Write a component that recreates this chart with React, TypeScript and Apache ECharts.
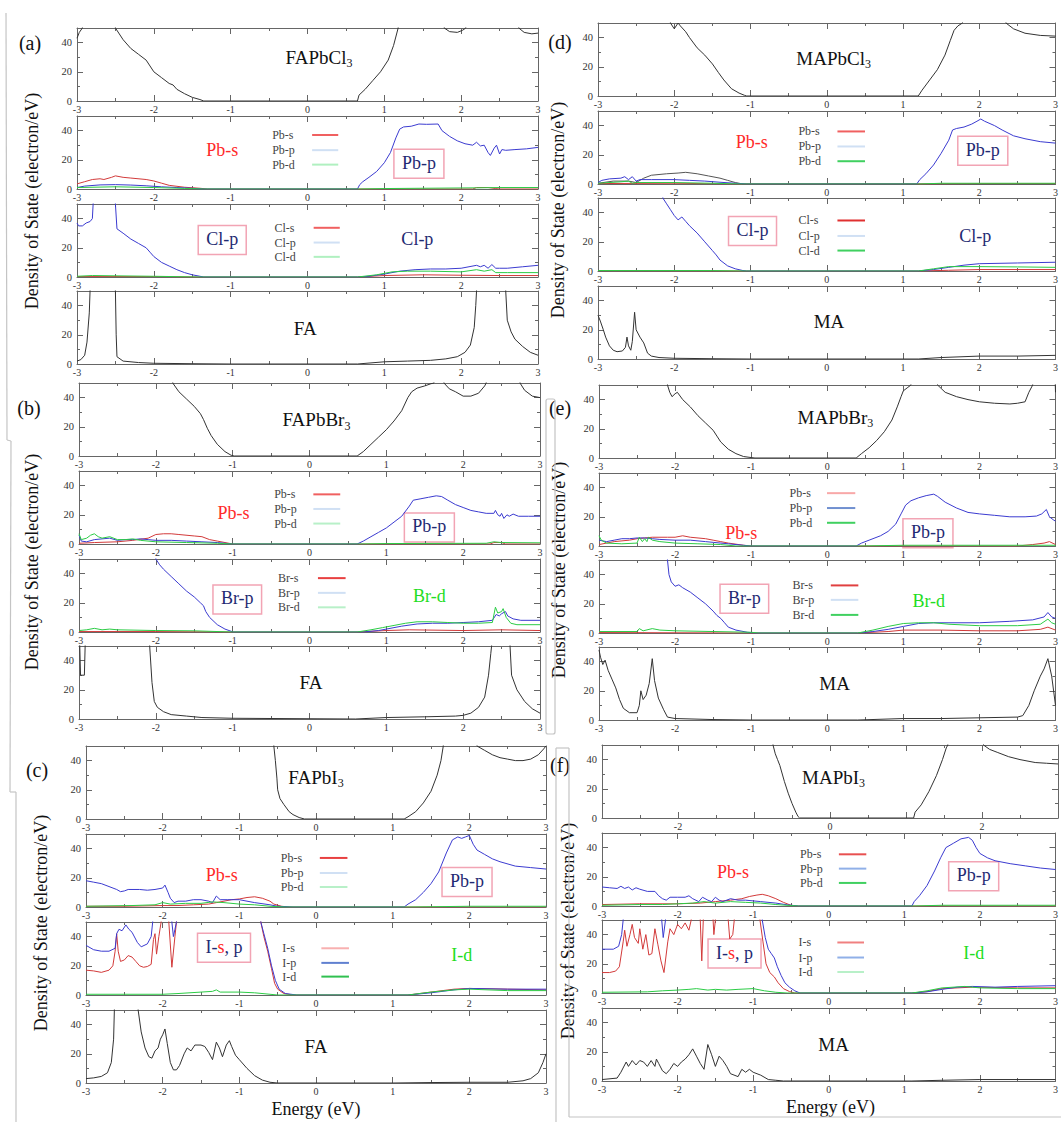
import React, { useEffect, useRef } from 'react';
import * as echarts from 'echarts';

type Pt = [number, number];

// ---------- axis ticks ----------
const X_MIN = -3;
const X_MAX = 3;
const Y_MIN = 0;
const Y_MAX = 50;

// ---------- (a) FAPbCl3 ----------
const A_TOT: Pt[] = [[-3,43],[-2.97,47],[-2.93,50],[-2.9,80],[-2.52,80],[-2.5,50],[-2.4,42],[-2.3,36],[-2.2,32],[-2.1,28],[-2.05,24],[-2.0,20],[-1.9,16],[-1.8,12],[-1.75,11],[-1.7,8],[-1.6,5],[-1.5,2.5],[-1.4,1],[-1.35,0],[0.65,0],[0.67,4],[0.75,8],[0.85,14],[0.95,20],[1.05,28],[1.12,38],[1.18,50],[1.2,80],[1.75,80],[1.78,50],[1.85,47.5],[1.95,47],[2.02,48.5],[2.06,50],[2.1,80],[2.72,80],[2.75,50],[2.82,47],[2.92,46],[3,46.5]];
const A_PB_S: Pt[] = [[-3,3.5],[-2.9,5],[-2.8,6.5],[-2.7,7],[-2.65,6.5],[-2.55,8],[-2.5,9],[-2.4,8],[-2.3,7.5],[-2.1,6.5],[-2.0,5.5],[-1.9,4],[-1.8,2.5],[-1.6,1.2],[-1.4,0.5],[-1.3,0],[2.15,0],[2.2,1],[2.35,1],[2.45,0.3],[2.5,0],[3,0]];
const A_PB_P: Pt[] = [[-3,1],[-2.9,2],[-2.7,2.8],[-2.5,3],[-2.3,2.7],[-2.1,2.2],[-1.9,1.5],[-1.7,1],[-1.5,0.5],[-1.35,0],[0.65,0],[0.68,3],[0.72,5],[0.8,8],[0.9,12],[1.0,18],[1.08,25],[1.15,35],[1.2,41],[1.25,42.5],[1.35,43],[1.45,44.5],[1.55,44.3],[1.7,44.5],[1.75,40],[1.85,36],[1.95,33],[2.05,31],[2.15,30],[2.2,32],[2.25,29.5],[2.3,30],[2.35,25],[2.38,23],[2.43,28],[2.46,30],[2.5,24],[2.53,27],[2.58,26.5],[2.7,27],[2.85,27.5],[3,28.5]];
const A_PB_D: Pt[] = [[-3,1],[-2.5,1.5],[-2.0,1],[-1.6,0.4],[-1.35,0],[0.65,0],[1,0.3],[2.2,0.8],[2.5,1],[3,1]];
const A_CL_S: Pt[] = [[-3,0.3],[-2,0.3],[-1.4,0],[0.65,0],[1.0,1],[1.5,1.5],[2,1.2],[2.5,1],[3,1]];
const A_CL_P: Pt[] = [[-3,37],[-2.98,35],[-2.93,35],[-2.88,37],[-2.83,38],[-2.8,40],[-2.79,50],[-2.77,80],[-2.52,80],[-2.5,50],[-2.48,33],[-2.4,30],[-2.3,26],[-2.2,23],[-2.1,20],[-2.05,17],[-2.0,14],[-1.9,10],[-1.8,7.5],[-1.7,5],[-1.6,3],[-1.5,1.5],[-1.4,0.5],[-1.35,0],[0.65,0],[0.8,0.5],[1.0,2],[1.2,4],[1.4,5],[1.6,5.5],[1.8,5.5],[2.0,6],[2.2,8],[2.25,7],[2.3,8],[2.35,6],[2.4,8.5],[2.45,6],[2.5,6],[2.6,6],[2.8,7],[3,8]];
const A_CL_D: Pt[] = [[-3,0.5],[-2.8,1],[-2.5,0.8],[-2.0,0.5],[-1.4,0],[0.65,0],[0.9,1.5],[1.1,3.5],[1.3,4],[1.6,4],[2.0,3.5],[2.2,5],[2.3,4],[2.4,5],[2.45,3],[2.6,3],[3,3]];
const A_FA: Pt[] = [[-3,2],[-2.95,3],[-2.9,6],[-2.87,15],[-2.84,35],[-2.83,50],[-2.82,80],[-2.52,80],[-2.5,50],[-2.49,20],[-2.48,5],[-2.4,2],[-2.2,1],[-2.0,0.5],[-1.5,0.2],[-1,0],[0.65,0],[1.0,1.5],[1.3,2],[1.6,2.5],[1.8,3.5],[1.95,5],[2.05,8],[2.12,13],[2.17,25],[2.19,40],[2.2,50],[2.21,80],[2.57,80],[2.58,50],[2.6,30],[2.65,22],[2.7,17],[2.8,12],[2.9,8],[3,6]];

// ---------- (b) FAPbBr3 ----------
const B_TOT: Pt[] = [[-1.8,80],[-1.78,50],[-1.7,44],[-1.6,39],[-1.5,34],[-1.42,29],[-1.38,25],[-1.33,19],[-1.28,14],[-1.2,8],[-1.1,3],[-1.02,0.5],[-0.98,0],[0.62,0],[0.7,3],[0.8,8],[0.9,13],[1.0,18],[1.1,24],[1.2,31],[1.28,40],[1.33,44],[1.4,46.5],[1.5,48],[1.58,49.5],[1.62,50],[1.65,80],[1.72,80],[1.75,50],[1.82,46],[1.9,44],[2.0,41],[2.1,41],[2.2,43],[2.28,48],[2.3,50],[2.32,80],[2.72,80],[2.74,50],[2.8,45],[2.9,41],[3,40]];
const B_PB_S: Pt[] = [[-3,0.5],[-2.8,1],[-2.5,1.5],[-2.3,2.5],[-2.1,4],[-2.0,6.5],[-1.9,7],[-1.8,7],[-1.7,6.5],[-1.5,5.5],[-1.4,5],[-1.3,3],[-1.2,2],[-1.1,1],[-1.0,0],[2.35,0],[2.4,1],[2.5,1],[2.55,0],[3,0]];
const B_PB_P: Pt[] = [[-3,6],[-2.97,2],[-2.9,1.5],[-2.8,3],[-2.7,3.5],[-2.6,4],[-2.5,2.5],[-2.4,3],[-2.3,3],[-2.2,3.5],[-2.1,3],[-2.0,2.5],[-1.8,2.5],[-1.6,2],[-1.4,1.5],[-1.2,1],[-1.0,0],[0.62,0],[0.7,2],[0.8,5],[0.9,8],[1.0,11],[1.1,15],[1.2,19],[1.3,26],[1.35,30],[1.45,31],[1.55,32],[1.65,33],[1.72,32.5],[1.8,30],[1.9,27],[2.0,25],[2.1,23],[2.2,22],[2.3,21],[2.4,21],[2.42,23],[2.45,20],[2.48,19],[2.5,21],[2.53,17.5],[2.57,20],[2.6,19],[2.65,20.5],[2.72,19],[2.85,19],[3,19]];
const B_PB_D: Pt[] = [[-3,7],[-2.97,3],[-2.9,4],[-2.85,6],[-2.8,7],[-2.75,5],[-2.7,4],[-2.6,5],[-2.5,3],[-2.4,3],[-2.3,3.5],[-2.2,2.5],[-2.0,1.5],[-1.6,1],[-1.2,0.5],[-1.0,0],[0.62,0],[1,0.3],[2.3,0.5],[2.4,1.5],[2.5,1],[3,0.8]];
const B_BR_S: Pt[] = [[-3,0.3],[-2,0.3],[-1,0],[0.62,0],[1.0,1],[1.3,1.5],[2,1],[2.5,1.5],[3,1]];
const B_BR_P: Pt[] = [[-2.02,80],[-2.0,50],[-1.95,46],[-1.9,43],[-1.8,38],[-1.7,33],[-1.6,28],[-1.5,24],[-1.42,20],[-1.38,18],[-1.35,14],[-1.3,10],[-1.2,5],[-1.1,2],[-1.02,0.5],[-1.0,0],[0.7,0],[0.9,1],[1.0,2],[1.2,4],[1.4,5.5],[1.6,6],[1.8,6],[2.0,6.5],[2.2,7],[2.38,8],[2.43,12],[2.47,11],[2.5,12.5],[2.55,14],[2.58,11],[2.65,9],[2.75,8],[3,8]];
const B_BR_D: Pt[] = [[-3,1],[-2.9,1.5],[-2.8,2.5],[-2.7,1.5],[-2.6,2],[-2.5,1.5],[-2.0,1],[-1.5,0.8],[-1.0,0],[0.62,0],[0.8,1.5],[0.95,3],[1.1,4.5],[1.25,6],[1.4,7],[1.6,7],[1.8,6.5],[2.0,6],[2.2,6],[2.38,6.5],[2.42,17],[2.45,13],[2.5,14],[2.52,16],[2.56,10],[2.62,6],[2.7,5],[3,5]];
const B_FA: Pt[] = [[-3,80],[-2.99,50],[-2.98,30],[-2.93,30],[-2.92,50],[-2.91,80],[-2.1,80],[-2.08,50],[-2.05,25],[-2.02,12],[-1.98,8],[-1.9,5],[-1.8,3],[-1.6,2],[-1.4,1],[-1.0,0.5],[0.6,0],[1.0,1],[1.5,1.5],[1.9,2],[2.0,2.5],[2.1,4],[2.2,8],[2.28,15],[2.33,30],[2.36,45],[2.37,50],[2.38,80],[2.6,80],[2.61,50],[2.63,30],[2.7,20],[2.8,12],[2.9,7],[3,4]];

// ---------- (c) FAPbI3 ----------
const C_TOT: Pt[] = [[-0.56,80],[-0.55,50],[-0.53,40],[-0.51,28],[-0.5,20],[-0.47,14],[-0.42,10],[-0.35,5],[-0.3,3],[-0.22,1],[-0.15,0],[1.15,0],[1.2,1.5],[1.3,5],[1.4,11],[1.5,19],[1.58,30],[1.63,40],[1.66,50],[1.68,80],[2.05,80],[2.1,50],[2.2,47],[2.3,44],[2.4,42],[2.5,41],[2.6,40],[2.7,40],[2.8,41],[2.9,44],[2.97,48],[3,50]];
const C_PB_S: Pt[] = [[-3,0.5],[-2.5,0.5],[-2.0,1],[-1.8,1],[-1.6,1.5],[-1.4,2],[-1.3,3],[-1.2,4],[-1.1,5],[-1.0,5.5],[-0.9,6.5],[-0.8,7],[-0.7,6],[-0.6,4],[-0.55,2],[-0.45,0.5],[-0.35,0],[3,0]];
const C_PB_P: Pt[] = [[-3,18],[-2.9,17],[-2.8,16],[-2.7,14],[-2.6,12],[-2.55,10.5],[-2.5,11],[-2.45,12],[-2.3,12],[-2.2,11.5],[-2.1,12],[-2.0,13],[-1.97,15],[-1.93,10],[-1.9,6],[-1.85,3],[-1.8,4],[-1.7,4],[-1.6,5],[-1.5,5],[-1.4,4],[-1.35,3],[-1.3,7.5],[-1.25,5],[-1.15,5],[-1.0,5],[-0.9,4],[-0.8,3],[-0.6,1.5],[-0.5,0.5],[-0.3,0],[1.15,0],[1.2,2],[1.3,5],[1.4,10],[1.5,16],[1.6,24],[1.7,37],[1.78,46],[1.85,48],[1.9,47],[1.95,48],[2.0,49],[2.05,43],[2.1,39],[2.2,36],[2.3,33],[2.4,31],[2.6,28],[2.8,27],[3,26]];
const C_PB_D: Pt[] = [[-3,0.5],[-2.4,1],[-2.1,1.5],[-2.0,3],[-1.9,2],[-1.7,2.5],[-1.5,2.5],[-1.35,3.5],[-1.2,3],[-1.0,2],[-0.8,1.5],[-0.6,0.5],[-0.4,0],[1.2,0],[2,0.5],[3,0.5]];
const C_I_S: Pt[] = [[-3,17],[-2.9,16.5],[-2.8,15.5],[-2.7,17],[-2.65,20],[-2.62,30],[-2.6,42],[-2.58,30],[-2.55,23],[-2.5,24],[-2.45,27],[-2.4,26],[-2.35,23],[-2.3,20],[-2.25,19],[-2.2,19.5],[-2.15,21],[-2.12,38],[-2.1,42],[-2.08,28],[-2.05,40],[-2.02,50],[-2.0,80],[-1.93,80],[-1.92,50],[-1.88,19],[-1.84,40],[-1.82,50],[-1.8,80],[-0.74,80],[-0.72,50],[-0.68,40],[-0.63,30],[-0.58,18],[-0.54,8],[-0.5,4],[-0.42,1],[-0.3,0],[1.2,0],[1.5,2],[1.8,4],[2.0,4.5],[2.5,4],[3,3.5]];
const C_I_P: Pt[] = [[-3,34],[-2.9,31],[-2.8,30],[-2.7,30],[-2.62,32],[-2.6,42],[-2.57,45],[-2.53,44],[-2.48,48],[-2.44,45],[-2.4,43],[-2.33,36],[-2.28,33],[-2.2,35],[-2.15,40],[-2.13,50],[-2.12,80],[-1.9,80],[-1.88,50],[-1.86,40],[-1.84,45],[-1.82,50],[-1.8,80],[-0.74,80],[-0.72,50],[-0.68,42],[-0.63,32],[-0.58,20],[-0.53,10],[-0.48,4],[-0.4,1],[-0.25,0],[1.2,0],[1.5,1.5],[1.8,3.5],[2.0,4.5],[2.5,4],[3,4]];
const C_I_D: Pt[] = [[-3,0.5],[-2.5,0.5],[-2.0,0.5],[-1.8,1],[-1.5,2],[-1.35,2.5],[-1.3,3.5],[-1.25,2],[-1.0,2],[-0.8,1.5],[-0.6,0.5],[-0.5,0],[1.2,0],[1.5,2],[1.8,3.5],[2.0,4],[2.5,3],[3,3]];
const C_FA: Pt[] = [[-3,3],[-2.9,3.5],[-2.8,4.5],[-2.72,7],[-2.67,14],[-2.64,30],[-2.63,50],[-2.62,80],[-2.33,80],[-2.32,50],[-2.28,35],[-2.23,24],[-2.18,18],[-2.14,17],[-2.1,22],[-2.06,24],[-2.03,30],[-2.0,33],[-1.97,37],[-1.94,27],[-1.9,14],[-1.86,9],[-1.82,9],[-1.78,12],[-1.72,20],[-1.68,24],[-1.63,22],[-1.58,26],[-1.5,26],[-1.45,25],[-1.4,21],[-1.35,16],[-1.3,28],[-1.26,24],[-1.22,18],[-1.17,26],[-1.13,29],[-1.1,25],[-1.05,19],[-1.0,16],[-0.9,10],[-0.8,5],[-0.7,2],[-0.6,0.5],[-0.5,0],[1.0,0],[1.5,0.3],[2.0,0.5],[2.5,0.5],[2.7,1.5],[2.8,3],[2.9,7],[2.96,14],[3,20]];

// ---------- (d) MAPbCl3 ----------
const D_TOT: Pt[] = [[-2.1,80],[-2.05,50],[-2.0,46],[-1.95,50],[-1.92,48],[-1.85,44],[-1.8,40],[-1.7,33],[-1.6,28],[-1.5,22],[-1.42,16],[-1.35,11],[-1.25,5],[-1.15,2],[-1.08,0.5],[-1.05,0],[1.2,0],[1.25,4],[1.35,11],[1.45,18],[1.55,28],[1.62,38],[1.67,45],[1.72,48],[1.78,50],[1.8,80],[2.32,80],[2.35,50],[2.45,46],[2.6,43],[2.8,41.5],[3,41]];
const D_PB_S: Pt[] = [[-3,0.3],[-2,0.5],[-1.2,0],[1.2,0],[2,0.3],[3,0.3]];
const D_PB_P: Pt[] = [[-3,1],[-2.95,2.5],[-2.85,3.5],[-2.7,4],[-2.65,5],[-2.6,3],[-2.55,5],[-2.5,2],[-2.45,3],[-2.3,3],[-2.0,3],[-1.8,2.5],[-1.6,2],[-1.4,1.2],[-1.2,0.5],[-1.05,0],[1.18,0],[1.22,3],[1.3,7],[1.4,13],[1.5,21],[1.6,30],[1.65,37],[1.7,38],[1.8,39],[1.9,41],[1.97,43],[2.02,44.5],[2.07,43],[2.2,40],[2.3,37],[2.45,33],[2.6,31],[2.8,29],[3,28]];
const D_PB_D: Pt[] = [[-3,0.5],[-2.7,1.5],[-2.6,2],[-2.55,0.5],[-2.5,1],[-2.2,1],[-2.0,1],[-1.5,0.5],[-1.1,0],[1.2,0],[1.5,0.5],[3,0.5]];
const D_PB_SUM: Pt[] = [[-3,0.5],[-2.8,2],[-2.6,2],[-2.5,1],[-2.4,4],[-2.3,6],[-2.1,7],[-1.95,7.5],[-1.85,8],[-1.7,7],[-1.55,5.5],[-1.4,4],[-1.3,2.5],[-1.2,1],[-1.1,0],[3,0]];
const D_CL_S: Pt[] = [[-3,0.2],[-1,0],[1.2,0],[1.6,0.5],[2,1],[3,1]];
const D_CL_P: Pt[] = [[-2.17,80],[-2.15,50],[-2.1,46],[-2.05,42],[-2.0,38],[-1.95,35],[-1.9,37],[-1.85,34],[-1.8,31],[-1.7,26],[-1.6,20],[-1.5,14],[-1.45,11],[-1.4,7.5],[-1.3,3.5],[-1.2,1.5],[-1.1,0.3],[-1.05,0],[1.2,0],[1.4,1],[1.6,2.5],[1.8,4],[2.0,5],[2.5,5.5],[3,6]];
const D_CL_D: Pt[] = [[-3,0.3],[-1.5,0.3],[-1.05,0],[1.2,0],[1.4,1.5],[1.6,3],[2.0,3],[2.5,2.8],[3,2.5]];
const D_MA: Pt[] = [[-3,30],[-2.97,26],[-2.93,20],[-2.9,15],[-2.85,9],[-2.8,6],[-2.75,5],[-2.68,5.5],[-2.64,8],[-2.62,15],[-2.6,9],[-2.57,6],[-2.55,12],[-2.52,32],[-2.5,20],[-2.45,15],[-2.4,11],[-2.35,4],[-2.3,2],[-2.2,1],[-2.0,0.5],[-1.5,0.2],[-1,0],[1.2,0],[1.5,1],[2,2],[2.5,2],[3,2.5]];

// ---------- (e) MAPbBr3 ----------
const E_TOT: Pt[] = [[-2.12,80],[-2.1,50],[-2.07,45],[-2.04,42],[-2.0,44],[-1.97,45],[-1.9,40],[-1.8,35],[-1.7,29],[-1.6,24],[-1.5,19],[-1.45,15],[-1.4,11],[-1.3,6],[-1.2,3],[-1.1,1],[-1.0,0.3],[-0.95,0],[0.38,0],[0.45,3],[0.55,7],[0.65,12],[0.75,18],[0.85,26],[0.92,35],[0.97,42],[1.0,46],[1.05,48],[1.1,50],[1.12,80],[1.42,80],[1.45,50],[1.55,45],[1.7,42],[1.85,40],[2.0,38.5],[2.2,37.5],[2.4,37],[2.5,37.5],[2.6,38.5],[2.65,45],[2.7,50],[2.72,80],[2.98,80],[3,45]];
const E_PB_S: Pt[] = [[-3,1],[-2.9,2],[-2.8,3],[-2.6,4],[-2.5,5],[-2.4,5.5],[-2.3,6],[-2.1,6],[-2.0,6],[-1.9,7],[-1.8,6],[-1.6,5],[-1.5,4],[-1.4,3],[-1.3,2],[-1.1,0.5],[-1.0,0],[2.5,0],[2.7,1],[2.85,2],[2.92,3],[3,1]];
const E_PB_P: Pt[] = [[-3,4],[-2.9,3],[-2.8,4],[-2.7,5],[-2.6,5],[-2.5,5.5],[-2.4,5.5],[-2.3,5],[-2.2,4.5],[-2.0,4],[-1.8,4],[-1.6,3],[-1.5,2.5],[-1.3,1.5],[-1.1,0.5],[-1.0,0],[0.38,0],[0.45,2],[0.55,4],[0.7,7],[0.8,10],[0.9,15],[0.97,22],[1.03,28],[1.1,31],[1.2,33],[1.3,34.5],[1.4,35.5],[1.45,34],[1.55,30],[1.7,26],[1.85,23],[2.0,22],[2.2,21],[2.4,20],[2.6,20],[2.75,20.5],[2.82,22],[2.88,25],[2.92,20],[2.97,18],[3,17]];
const E_PB_D: Pt[] = [[-3,7],[-2.97,4],[-2.9,2],[-2.7,1.5],[-2.5,2],[-2.47,6],[-2.43,3],[-2.4,5],[-2.37,3],[-2.35,6],[-2.3,4],[-2.2,3],[-2.0,2],[-1.7,1.5],[-1.4,1],[-1.2,0],[0.4,0],[1,0.5],[3,0.5]];
const E_BR_S: Pt[] = [[-3,0.3],[-1,0],[0.4,0],[0.8,1],[1.0,2],[1.5,2],[2.0,1.5],[2.5,1.5],[2.8,2.5],[2.9,4],[3,2]];
const E_BR_P: Pt[] = [[-2.12,80],[-2.1,50],[-2.08,40],[-2.05,35],[-2.0,32],[-1.95,33],[-1.9,31],[-1.8,28],[-1.7,24],[-1.6,20],[-1.5,15],[-1.45,12],[-1.4,10],[-1.35,7],[-1.3,4],[-1.2,2],[-1.05,0.5],[-0.95,0],[0.4,0],[0.6,1],[0.8,2.5],[1.0,4.5],[1.2,6.5],[1.4,7],[1.6,7],[2.0,7],[2.4,8],[2.7,9],[2.85,11],[2.9,14],[2.95,11],[3,10]];
const E_BR_D: Pt[] = [[-3,1],[-2.5,1],[-2.47,3],[-2.42,1.5],[-2.3,3],[-2.2,2],[-2.0,1.5],[-1.5,1],[-1.0,0.5],[-0.9,0],[0.4,0],[0.6,2],[0.8,4.5],[1.0,6.5],[1.2,7],[1.4,7],[1.6,6],[2.0,5],[2.5,5],[2.8,6],[2.9,9.5],[2.95,7],[3,6]];
const E_MA: Pt[] = [[-3,48],[-2.98,43],[-2.95,38],[-2.92,41],[-2.88,34],[-2.83,28],[-2.78,22],[-2.73,14],[-2.68,8],[-2.6,5],[-2.5,5],[-2.47,10],[-2.45,20],[-2.42,14],[-2.38,17],[-2.34,25],[-2.3,42],[-2.27,27],[-2.22,15],[-2.15,7],[-2.1,2],[-2.0,1],[-1.5,0.3],[-1,0],[0.4,0],[1.0,1],[1.5,1],[2.0,1.5],[2.5,2],[2.57,3],[2.65,10],[2.72,20],[2.8,30],[2.85,35],[2.9,42],[2.95,30],[3,10]];

// ---------- (f) MAPbI3 ----------
const F_TOT: Pt[] = [[-0.77,80],[-0.75,50],[-0.72,44],[-0.69,40],[-0.66,36],[-0.6,25],[-0.55,17],[-0.5,10],[-0.45,4],[-0.42,1],[-0.4,0],[1.1,0],[1.12,4],[1.2,9],[1.3,18],[1.4,29],[1.48,40],[1.53,48],[1.55,50],[1.57,80],[2.0,80],[2.02,50],[2.1,47],[2.2,45],[2.35,42],[2.5,40],[2.7,38],[2.85,37.5],[3,37]];
const F_PB_S: Pt[] = [[-3,1],[-2.5,1.5],[-2.0,1.5],[-1.7,2],[-1.5,3],[-1.3,4],[-1.15,5],[-1.05,6.5],[-0.95,7.5],[-0.88,8],[-0.8,7],[-0.7,5],[-0.6,2.5],[-0.5,0.5],[-0.42,0],[3,0]];
const F_PB_P: Pt[] = [[-3,13],[-2.9,12.5],[-2.8,12],[-2.75,13.5],[-2.7,12],[-2.65,13],[-2.6,11],[-2.55,12.5],[-2.5,11.5],[-2.4,10],[-2.3,10],[-2.25,7],[-2.2,5],[-2.15,4],[-2.1,6],[-2.0,6],[-1.9,6],[-1.85,7],[-1.8,5],[-1.72,3],[-1.67,6],[-1.6,4],[-1.55,3],[-1.5,6],[-1.45,4],[-1.4,3],[-1.3,5],[-1.2,4],[-1.1,4],[-1.0,3.5],[-0.9,3],[-0.7,2],[-0.55,0.8],[-0.4,0],[1.1,0],[1.13,3],[1.2,7],[1.3,14],[1.4,24],[1.48,33],[1.55,40],[1.65,43],[1.75,46],[1.85,47],[1.9,45],[1.95,40],[2.0,36],[2.1,33],[2.2,31],[2.4,29],[2.6,27.5],[2.8,26],[3,25]];
const F_PB_D: Pt[] = [[-3,0.5],[-2.5,1],[-2.2,1],[-2.0,1.5],[-1.8,2],[-1.65,3],[-1.5,2],[-1.3,3],[-1.1,2.5],[-0.9,2],[-0.7,1],[-0.5,0.3],[-0.4,0],[1.1,0],[1.5,0.5],[3,0.5]];
const F_I_S: Pt[] = [[-3,14],[-2.9,14],[-2.82,15],[-2.77,18],[-2.72,35],[-2.7,43],[-2.67,32],[-2.63,40],[-2.6,47],[-2.57,38],[-2.52,34],[-2.5,44],[-2.46,30],[-2.42,40],[-2.38,26],[-2.34,27],[-2.3,44],[-2.26,33],[-2.22,22],[-2.18,14],[-2.13,35],[-2.1,44],[-2.05,40],[-2.0,47],[-1.95,44],[-1.9,48],[-1.85,43],[-1.82,50],[-1.8,80],[-1.72,80],[-1.7,50],[-1.68,22],[-1.66,50],[-1.64,80],[-1.55,80],[-1.53,50],[-1.52,40],[-1.5,50],[-1.48,80],[-1.35,80],[-1.33,50],[-1.31,37],[-1.27,40],[-1.25,50],[-1.23,80],[-0.93,80],[-0.91,50],[-0.87,35],[-0.83,20],[-0.78,14],[-0.72,11],[-0.67,7],[-0.6,3],[-0.52,1],[-0.45,0],[1.1,0],[1.3,1],[1.5,3],[1.9,4],[2.5,3.5],[3,3.5]];
const F_I_P: Pt[] = [[-3,30],[-2.85,30],[-2.78,32],[-2.74,40],[-2.72,50],[-2.7,80],[-2.23,80],[-2.21,50],[-2.19,38],[-2.16,50],[-2.14,80],[-0.9,80],[-0.88,50],[-0.84,38],[-0.8,30],[-0.76,27],[-0.72,24],[-0.68,18],[-0.63,12],[-0.58,7],[-0.52,4],[-0.45,1.5],[-0.38,0],[1.1,0],[1.3,0.8],[1.5,2.5],[1.7,4],[1.9,4.5],[2.2,4],[2.5,4.5],[3,5]];
const F_I_D: Pt[] = [[-3,0.5],[-2.4,0.8],[-2.2,1.5],[-2.0,2],[-1.85,2.5],[-1.75,3],[-1.6,2],[-1.5,2.5],[-1.35,2],[-1.2,2.5],[-1.0,3],[-0.85,1.5],[-0.7,0.5],[-0.55,0],[1.1,0],[1.3,1.5],[1.5,3.5],[1.8,4.5],[2.0,3.5],[2.5,3],[3,3]];
const F_MA: Pt[] = [[-3,1],[-2.8,2],[-2.75,6],[-2.68,13],[-2.65,10],[-2.6,14],[-2.55,11],[-2.5,14],[-2.45,13],[-2.4,10],[-2.35,14],[-2.3,10],[-2.28,15],[-2.25,12],[-2.2,7],[-2.15,5],[-2.1,8],[-2.05,12],[-2.0,10],[-1.95,13],[-1.9,15],[-1.85,18],[-1.8,22],[-1.75,17],[-1.7,12],[-1.65,8],[-1.6,25],[-1.55,18],[-1.5,10],[-1.45,17],[-1.4,14],[-1.35,10],[-1.3,5],[-1.2,3],[-1.15,8],[-1.1,6],[-1.05,8],[-1.0,6],[-0.9,4],[-0.8,1],[-0.7,0.5],[-0.6,0],[1.1,0],[1.5,0.5],[2,1],[3,1]];

// ---------- styles & layout ----------
const FONT = '"Liberation Serif", "DejaVu Serif", serif';
const RED = '#d23a3a';
const BLUE = '#3b3bd0';
const GREEN = '#2bcc45';
const BLACK = '#333333';
const RED_T = '#ff2a2a';
const NAVY = '#1f2a72';
const GREEN_T = '#22dd22';
const H = 73;

const PANELS = [
  { tag: '(a)', left: 77, right: 538, tops: [28, 116, 204, 291], tagX: 30, tagY: 43, ytX: 32, ytY: 201, energyY: 0 },
  { tag: '(b)', left: 79, right: 540, tops: [383, 471, 559, 646], tagX: 29, tagY: 408, ytX: 32, ytY: 562, energyY: 0 },
  { tag: '(c)', left: 86, right: 546, tops: [746, 834, 922, 1010], tagX: 37, tagY: 770, ytX: 41, ytY: 923, energyY: 1109 },
  { tag: '(d)', left: 598, right: 1057, tops: [23, 111, 198, 286], tagX: 560, tagY: 42, ytX: 558, ytY: 210, energyY: 0 },
  { tag: '(e)', left: 599, right: 1058, tops: [385, 473, 560, 647], tagX: 560, tagY: 408, ytX: 559, ytY: 570, energyY: 0 },
  { tag: '(f)', left: 602, right: 1059, tops: [745, 833, 920, 1008], tagX: 560, tagY: 765, ytX: 568, ytY: 931, energyY: 1107 },
];

const SUBPLOTS: { p: number; r: number; lines: [Pt[], string][] }[] = [
  { p: 0, r: 0, lines: [[A_TOT, BLACK]] },
  { p: 0, r: 1, lines: [[A_PB_S, RED], [A_PB_P, BLUE], [A_PB_D, GREEN]] },
  { p: 0, r: 2, lines: [[A_CL_S, RED], [A_CL_P, BLUE], [A_CL_D, GREEN]] },
  { p: 0, r: 3, lines: [[A_FA, BLACK]] },
  { p: 1, r: 0, lines: [[B_TOT, BLACK]] },
  { p: 1, r: 1, lines: [[B_PB_S, RED], [B_PB_P, BLUE], [B_PB_D, GREEN]] },
  { p: 1, r: 2, lines: [[B_BR_S, RED], [B_BR_P, BLUE], [B_BR_D, GREEN]] },
  { p: 1, r: 3, lines: [[B_FA, BLACK]] },
  { p: 2, r: 0, lines: [[C_TOT, BLACK]] },
  { p: 2, r: 1, lines: [[C_PB_S, RED], [C_PB_P, BLUE], [C_PB_D, GREEN]] },
  { p: 2, r: 2, lines: [[C_I_S, RED], [C_I_P, BLUE], [C_I_D, GREEN]] },
  { p: 2, r: 3, lines: [[C_FA, BLACK]] },
  { p: 3, r: 0, lines: [[D_TOT, BLACK]] },
  { p: 3, r: 1, lines: [[D_PB_SUM, '#555555'], [D_PB_S, RED], [D_PB_P, BLUE], [D_PB_D, GREEN]] },
  { p: 3, r: 2, lines: [[D_CL_S, RED], [D_CL_P, BLUE], [D_CL_D, GREEN]] },
  { p: 3, r: 3, lines: [[D_MA, BLACK]] },
  { p: 4, r: 0, lines: [[E_TOT, BLACK]] },
  { p: 4, r: 1, lines: [[E_PB_S, RED], [E_PB_P, BLUE], [E_PB_D, GREEN]] },
  { p: 4, r: 2, lines: [[E_BR_S, RED], [E_BR_P, BLUE], [E_BR_D, GREEN]] },
  { p: 4, r: 3, lines: [[E_MA, BLACK]] },
  { p: 5, r: 0, lines: [[F_TOT, BLACK]] },
  { p: 5, r: 1, lines: [[F_PB_S, RED], [F_PB_P, BLUE], [F_PB_D, GREEN]] },
  { p: 5, r: 2, lines: [[F_I_S, RED], [F_I_P, BLUE], [F_I_D, GREEN]] },
  { p: 5, r: 3, lines: [[F_MA, BLACK]] },
];

const TITLES = [
  { p: 0, r: 0, main: 'FAPbCl', sub: '3', e: 0.15, v: 30 },
  { p: 0, r: 3, main: 'FA', sub: '', e: -0.03, v: 24.5 },
  { p: 1, r: 0, main: 'FAPbBr', sub: '3', e: 0.09, v: 25 },
  { p: 1, r: 3, main: 'FA', sub: '', e: 0.02, v: 25 },
  { p: 2, r: 0, main: 'FAPbI', sub: '3', e: 0.0, v: 28.6 },
  { p: 2, r: 3, main: 'FA', sub: '', e: 0.0, v: 25 },
  { p: 3, r: 0, main: 'MAPbCl', sub: '3', e: 0.08, v: 26 },
  { p: 3, r: 3, main: 'MA', sub: '', e: 0.02, v: 25.6 },
  { p: 4, r: 0, main: 'MAPbBr', sub: '3', e: 0.09, v: 28 },
  { p: 4, r: 3, main: 'MA', sub: '', e: 0.08, v: 25 },
  { p: 5, r: 0, main: 'MAPbI', sub: '3', e: 0.04, v: 28 },
  { p: 5, r: 3, main: 'MA', sub: '', e: 0.04, v: 25 },
];

const TAGS: { p: number; r: number; parts: [string, string][]; e: number; v: number; box?: boolean }[] = [
  { p: 0, r: 1, parts: [['Pb-s', RED_T]], e: -1.11, v: 27 },
  { p: 0, r: 1, parts: [['Pb-p', NAVY]], e: 1.45, v: 18, box: true },
  { p: 0, r: 2, parts: [['Cl-p', NAVY]], e: -1.11, v: 26, box: true },
  { p: 0, r: 2, parts: [['Cl-p', NAVY]], e: 1.43, v: 25.7 },
  { p: 1, r: 1, parts: [['Pb-s', RED_T]], e: -0.99, v: 21.3 },
  { p: 1, r: 1, parts: [['Pb-p', NAVY]], e: 1.56, v: 12, box: true },
  { p: 1, r: 2, parts: [['Br-p', NAVY]], e: -0.94, v: 23, box: true },
  { p: 1, r: 2, parts: [['Br-d', GREEN_T]], e: 1.56, v: 24.8 },
  { p: 2, r: 1, parts: [['Pb-s', RED_T]], e: -1.23, v: 22 },
  { p: 2, r: 1, parts: [['Pb-p', NAVY]], e: 1.97, v: 17.8, box: true },
  { p: 2, r: 2, parts: [['I-', NAVY], ['s', RED_T], [', p', NAVY]], e: -1.2, v: 33, box: true },
  { p: 2, r: 2, parts: [['I-d', GREEN_T]], e: 1.9, v: 27.5 },
  { p: 3, r: 1, parts: [['Pb-s', RED_T]], e: -0.99, v: 28.7 },
  { p: 3, r: 1, parts: [['Pb-p', NAVY]], e: 2.03, v: 23.5, box: true },
  { p: 3, r: 2, parts: [['Cl-p', NAVY]], e: -0.98, v: 28, box: true },
  { p: 3, r: 2, parts: [['Cl-p', NAVY]], e: 1.93, v: 24 },
  { p: 4, r: 1, parts: [['Pb-s', RED_T]], e: -1.14, v: 9.2 },
  { p: 4, r: 1, parts: [['Pb-p', NAVY]], e: 1.3, v: 9.5, box: true },
  { p: 4, r: 2, parts: [['Br-p', NAVY]], e: -1.1, v: 24.2, box: true },
  { p: 4, r: 2, parts: [['Br-d', GREEN_T]], e: 1.31, v: 21.8 },
  { p: 5, r: 1, parts: [['Pb-s', RED_T]], e: -1.28, v: 23.3 },
  { p: 5, r: 1, parts: [['Pb-p', NAVY]], e: 1.88, v: 21, box: true },
  { p: 5, r: 2, parts: [['I-', NAVY], ['s', RED_T], [', p', NAVY]], e: -1.26, v: 27.7, box: true },
  { p: 5, r: 2, parts: [['I-d', GREEN_T]], e: 1.88, v: 27.5 },
];

const PB_NAMES = ['Pb-s', 'Pb-p', 'Pb-d'];
const CL_NAMES = ['Cl-s', 'Cl-p', 'Cl-d'];
const BR_NAMES = ['Br-s', 'Br-p', 'Br-d'];
const I_NAMES = ['I-s', 'I-p', 'I-d'];

const LEGENDS = [
  { p: 0, r: 1, names: PB_NAMES, e: -0.46, vs: [37, 26.6, 16.7], l: [0.06, 0.4], c: ['#f06060', '#d0e0f4', '#b0f0c0'] },
  { p: 0, r: 2, names: CL_NAMES, e: -0.43, vs: [33.7, 23.6, 13.8], l: [0.08, 0.42], c: ['#f06060', '#d0e0f4', '#b0f0c0'] },
  { p: 1, r: 1, names: PB_NAMES, e: -0.46, vs: [34, 24, 14], l: [0.05, 0.4], c: ['#f06060', '#d0e0f4', '#b8f0c8'] },
  { p: 1, r: 2, names: BR_NAMES, e: -0.41, vs: [36.9, 26.8, 16.9], l: [0.11, 0.47], c: ['#e84040', '#d0e0f4', '#b8f0c8'] },
  { p: 2, r: 1, names: PB_NAMES, e: -0.46, vs: [33.6, 23.3, 13.7], l: [0.05, 0.41], c: ['#e84040', '#d0e0f4', '#b8f0c8'] },
  { p: 2, r: 2, names: I_NAMES, e: -0.44, vs: [32, 22, 12.6], l: [0.07, 0.43], c: ['#f8b0b0', '#6080d0', '#30c050'] },
  { p: 3, r: 1, names: PB_NAMES, e: -0.38, vs: [36, 25.7, 15.6], l: [0.13, 0.49], c: ['#f06060', '#d0e0f4', '#40d060'] },
  { p: 3, r: 2, names: CL_NAMES, e: -0.38, vs: [34.6, 24, 14], l: [0.13, 0.49], c: ['#e03030', '#d0e0f4', '#40d060'] },
  { p: 4, r: 1, names: PB_NAMES, e: -0.51, vs: [36.2, 26, 15.9], l: [-0.02, 0.35], c: ['#f8a8a8', '#7090d0', '#40d060'] },
  { p: 4, r: 2, names: BR_NAMES, e: -0.47, vs: [32.6, 22.7, 12.4], l: [0.03, 0.39], c: ['#e04040', '#d0e0f4', '#40d060'] },
  { p: 5, r: 1, names: PB_NAMES, e: -0.4, vs: [35.4, 25.6, 15.8], l: [0.11, 0.47], c: ['#e85050', '#90b0e8', '#40d060'] },
  { p: 5, r: 2, names: I_NAMES, e: -0.42, vs: [34.6, 24.3, 14.4], l: [0.09, 0.44], c: ['#f08080', '#90b0e8', '#b8f0c8'] },
];

// faint gray frames from the source image composition
const FRAME_LINES: [number, number, number, number][] = [
  [6, 13, 7, 440], [7, 440, 11, 441], [11, 441, 10, 792], [10, 792, 16, 792], [16, 792, 16, 1122],
  [556, 748, 556, 1122], [556, 748, 569, 748], [569, 748, 569, 1117], [569, 1117, 1061, 1117],
];
const FRAME_BOX = { x: 546, y: 399, w: 9, h: 335 };

let measureCtx: CanvasRenderingContext2D | null = null;
function textWidth(t: string, size: number): number {
  if (!measureCtx) measureCtx = document.createElement('canvas').getContext('2d');
  if (!measureCtx) return t.length * size * 0.5;
  measureCtx.font = `${size}px "Liberation Serif"`;
  return measureCtx.measureText(t).width;
}

function buildOption() {
  const grid: any[] = [];
  const xAxis: any[] = [];
  const yAxis: any[] = [];
  const series: any[] = [];
  const graphic: any[] = [];
  const axisColor = '#666';

  const px = (p: number, e: number) => {
    const P = PANELS[p];
    return P.left + ((e - X_MIN) / (X_MAX - X_MIN)) * (P.right - P.left);
  };
  const py = (p: number, r: number, v: number) => PANELS[p].tops[r] + ((Y_MAX - v) / (Y_MAX - Y_MIN)) * H;

  SUBPLOTS.forEach((sp, gi) => {
    const P = PANELS[sp.p];
    grid.push({ left: P.left, top: P.tops[sp.r], width: P.right - P.left, height: H, show: false });
    const onlyEven = sp.p === 5 && sp.r === 0;
    const tickCommon = {
      axisLine: { show: true, onZero: false, lineStyle: { color: axisColor, width: 1 } },
      axisTick: { show: true, inside: true, length: 6, lineStyle: { color: axisColor } },
      minorTick: { show: true, splitNumber: 2, length: 3, lineStyle: { color: axisColor } },
      splitLine: { show: false },
      minorSplitLine: { show: false },
    };
    xAxis.push({
      gridIndex: gi, type: 'value', min: X_MIN, max: X_MAX, interval: 1, position: 'bottom',
      ...tickCommon,
      axisLabel: {
        show: true, fontSize: 10, fontFamily: FONT, color: '#333', margin: 3,
        formatter: (v: number) => (onlyEven && Math.abs(v) % 2 === 1 ? '' : String(v)),
      },
    });
    xAxis.push({
      gridIndex: gi, type: 'value', min: X_MIN, max: X_MAX, interval: 1, position: 'top',
      ...tickCommon, axisLabel: { show: false },
    });
    yAxis.push({
      gridIndex: gi, type: 'value', min: Y_MIN, max: Y_MAX, interval: 20, position: 'left',
      ...tickCommon,
      axisLabel: { show: true, fontSize: 10.5, fontFamily: FONT, color: '#333', margin: 5, showMaxLabel: false },
    });
    yAxis.push({
      gridIndex: gi, type: 'value', min: Y_MIN, max: Y_MAX, interval: 20, position: 'right',
      ...tickCommon, axisLabel: { show: false },
    });
    sp.lines.forEach(([data, color]) => {
      series.push({
        type: 'line', xAxisIndex: gi * 2, yAxisIndex: gi * 2, data, showSymbol: false, symbol: 'none',
        clip: true, silent: true, lineStyle: { width: 1, color }, itemStyle: { color },
      });
    });
  });

  // panel tags, y titles, energy labels
  PANELS.forEach((P) => {
    graphic.push({
      type: 'text', x: P.tagX, y: P.tagY,
      style: { text: P.tag, fontSize: 20, fontFamily: FONT, fill: '#111', textAlign: 'center', textVerticalAlign: 'middle', align: 'center', verticalAlign: 'middle' },
    });
    graphic.push({
      type: 'text', x: P.ytX, y: P.ytY, rotation: Math.PI / 2,
      style: { text: 'Density of State (electron/eV)', fontSize: 18, fontFamily: FONT, fill: '#111', textAlign: 'center', textVerticalAlign: 'middle', align: 'center', verticalAlign: 'middle' },
    });
    if (P.energyY) {
      graphic.push({
        type: 'text', x: (P.left + P.right) / 2, y: P.energyY,
        style: { text: 'Energy (eV)', fontSize: 18, fontFamily: FONT, fill: '#111', textAlign: 'center', textVerticalAlign: 'middle', align: 'center', verticalAlign: 'middle' },
      });
    }
  });

  // titles with subscripts
  TITLES.forEach((t) => {
    const mainSize = 19;
    const subSize = 12;
    const wm = textWidth(t.main, mainSize);
    const ws = t.sub ? textWidth(t.sub, subSize) : 0;
    const cx = px(t.p, t.e);
    const cy = py(t.p, t.r, t.v);
    const x0 = cx - (wm + ws) / 2;
    graphic.push({
      type: 'text', x: x0, y: cy,
      style: { text: t.main, fontSize: mainSize, fontFamily: FONT, fill: '#111', textAlign: 'left', textVerticalAlign: 'middle', align: 'left', verticalAlign: 'middle' },
    });
    if (t.sub) {
      graphic.push({
        type: 'text', x: x0 + wm, y: cy + 6,
        style: { text: t.sub, fontSize: subSize, fontFamily: FONT, fill: '#111', textAlign: 'left', textVerticalAlign: 'middle', align: 'left', verticalAlign: 'middle' },
      });
    }
  });

  // coloured tags
  TAGS.forEach((t) => {
    const size = 18;
    const widths = t.parts.map(([s]) => textWidth(s, size));
    const total = widths.reduce((a, b) => a + b, 0);
    const cx = px(t.p, t.e);
    const cy = py(t.p, t.r, t.v);
    let x = cx - total / 2;
    t.parts.forEach(([s, col], i) => {
      graphic.push({
        type: 'text', x, y: cy,
        style: { text: s, fontSize: size, fontFamily: FONT, fill: col, textAlign: 'left', textVerticalAlign: 'middle', align: 'left', verticalAlign: 'middle' },
      });
      x += widths[i];
    });
    if (t.box) {
      const bw = total + 16;
      const bh = 29;
      graphic.push({
        type: 'rect', shape: { x: cx - bw / 2, y: cy - bh / 2 + 1, width: bw, height: bh },
        style: { fill: 'rgba(0,0,0,0)', stroke: '#f2a4b4', lineWidth: 1.5 },
      });
    }
  });

  // legends
  LEGENDS.forEach((L) => {
    L.names.forEach((n, i) => {
      const y = py(L.p, L.r, L.vs[i]);
      graphic.push({
        type: 'text', x: px(L.p, L.e), y,
        style: { text: n, fontSize: 12, fontFamily: FONT, fill: '#444', textAlign: 'left', textVerticalAlign: 'middle', align: 'left', verticalAlign: 'middle' },
      });
      graphic.push({
        type: 'line', shape: { x1: px(L.p, L.l[0]), y1: y, x2: px(L.p, L.l[1]), y2: y },
        style: { stroke: L.c[i], lineWidth: 2 },
      });
    });
  });

  // faint composition frames
  FRAME_LINES.forEach(([x1, y1, x2, y2]) => {
    graphic.push({ type: 'line', shape: { x1, y1, x2, y2 }, style: { stroke: '#c4c4c4', lineWidth: 1.2 } });
  });
  graphic.push({
    type: 'rect', shape: { x: FRAME_BOX.x, y: FRAME_BOX.y, width: FRAME_BOX.w, height: FRAME_BOX.h, r: 2 },
    style: { fill: 'rgba(0,0,0,0)', stroke: '#c4c4c4', lineWidth: 1.2 },
  });

  return {
    animation: false,
    backgroundColor: '#ffffff',
    grid, xAxis, yAxis, series, graphic,
  };
}

export default function App() {
  const ref = useRef<HTMLDivElement>(null);
  useEffect(() => {
    if (!ref.current) return;
    const chart = echarts.init(ref.current, undefined, { renderer: 'svg' });
    chart.setOption(buildOption() as any);
    return () => chart.dispose();
  }, []);
  return (
    <div
      ref={ref}
      style={{ position: 'absolute', left: 0, top: 0, width: 1061, height: 1122, background: '#fff' }}
    />
  );
}
